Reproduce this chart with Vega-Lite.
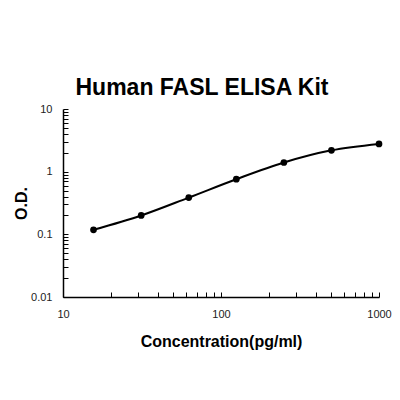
{
  "$schema": "https://vega.github.io/schema/vega-lite/v6.json",
  "width": 316,
  "height": 188,
  "autosize": "none",
  "padding": {"left": 63, "top": 109, "right": 21, "bottom": 103},
  "background": "white",
  "title": {
    "text": "Human FASL ELISA Kit",
    "font": "Liberation Sans",
    "fontSize": 23,
    "fontWeight": "bold",
    "color": "black",
    "anchor": "middle",
    "dx": -19,
    "dy": 27,
    "offset": 12,
    "baseline": "alphabetic"
  },
  "data": {
    "values": [
      {"conc": 15.6, "od": 0.118},
      {"conc": 31.25, "od": 0.2},
      {"conc": 62.5, "od": 0.386},
      {"conc": 125, "od": 0.758},
      {"conc": 250, "od": 1.4},
      {"conc": 500, "od": 2.19},
      {"conc": 1000, "od": 2.77}
    ]
  },
  "config": {
    "view": {"stroke": null},
    "axis": {
      "grid": false,
      "domainColor": "black",
      "domainWidth": 1.5,
      "tickColor": "black",
      "tickWidth": 1,
      "tickSize": -5,
      "labelFont": "Liberation Sans",
      "labelFontSize": 11,
      "labelColor": "#222",
      "titleFont": "Liberation Sans",
      "titleFontSize": 16,
      "titleFontWeight": "bold",
      "titleColor": "black",
      "labelOverlap": false,
      "labelBound": false,
      "labelFlush": false
    }
  },
  "encoding": {
    "x": {
      "field": "conc",
      "type": "quantitative",
      "scale": {"type": "log", "domain": [10, 1000], "nice": false},
      "axis": {
        "title": "Concentration(pg/ml)",
        "format": "~g",
        "labelExpr": "indexof([10, 100, 1000], datum.value) >= 0 ? datum.label : ''",
        "labelPadding": 16,
        "titleY": 44,
        "titleBaseline": "middle"
      }
    },
    "y": {
      "field": "od",
      "type": "quantitative",
      "scale": {"type": "log", "domain": [0.01, 10], "nice": false},
      "axis": {
        "title": "O.D.",
        "format": "~g",
        "labelExpr": "indexof([0.01, 0.1, 1, 10], datum.value) >= 0 ? datum.label : ''",
        "labelPadding": 16,
        "titleX": -42,
        "titleBaseline": "middle"
      }
    }
  },
  "layer": [
    {
      "mark": {"type": "line", "color": "black", "strokeWidth": 2, "interpolate": "monotone"}
    },
    {
      "mark": {"type": "point", "filled": true, "color": "black", "opacity": 1, "size": 45}
    }
  ]
}
